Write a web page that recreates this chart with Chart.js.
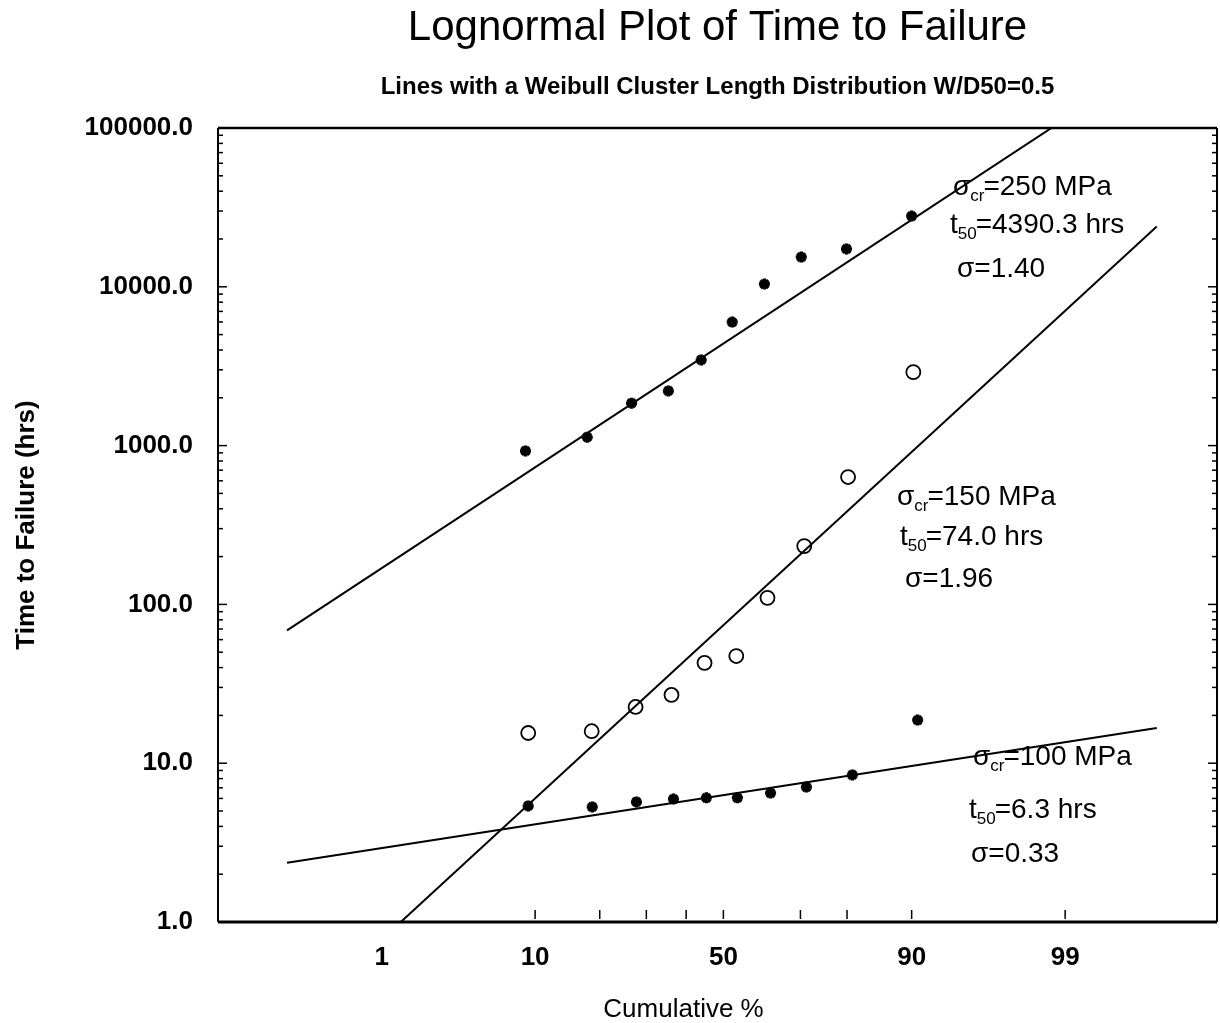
<!DOCTYPE html>
<html>
<head>
<meta charset="utf-8">
<script src="https://cdn.jsdelivr.net/npm/chart.js@4.4.1/dist/chart.umd.min.js"></script>
<style>
    html, body { margin: 0; padding: 0; background: #fff; }
    #wrap { width: 1220px; height: 1023px; position: relative; }
</style>
</head>
<body>
<div id="wrap"><canvas id="ttf-chart"></canvas></div>
<script>
// Cumulative % (plotting position) and time to failure for each stress level
const pct250 = [8.9, 17.7, 26.6, 35.4, 44.0, 52.4, 61.0, 70.2, 79.9, 90.0];
const hrs250 = [925, 1130, 1850, 2210, 3460, 6000, 10400, 15400, 17300, 27900];

const pct150 = [9.2, 18.5, 27.5, 36.2, 44.9, 53.5, 61.8, 70.9, 80.2, 90.2];
const hrs150 = [15.5, 15.9, 22.6, 26.9, 42.8, 47.3, 110, 233, 634, 2900];

const pct100 = [9.2, 18.6, 27.7, 36.7, 45.4, 53.8, 62.6, 71.4, 81.0, 90.7];
const hrs100 = [5.38, 5.30, 5.70, 5.95, 6.05, 6.05, 6.49, 7.08, 8.43, 18.7];

// Lognormal fit parameters
const stressMPa = [250, 150, 100];
const t50Hrs = [4390.3, 74.0, 6.3];
const sigmas = [1.40, 1.96, 0.33];

// Axis ticks
const xLabelPct = [1, 10, 50, 90, 99];
const xMarkPct = [10, 20, 30, 40, 50, 70, 80, 90, 99];
const yTicks = [1, 10, 100, 1000, 10000, 100000];

// inverse normal CDF (Acklam)
function probit(p) {
    const a = [-3.969683028665376e+01, 2.209460984245205e+02, -2.759285104469687e+02, 1.383577518672690e+02, -3.066479806614716e+01, 2.506628277459239e+00];
    const b = [-5.447609879822406e+01, 1.615858368580409e+02, -1.556989798598866e+02, 6.680131188771972e+01, -1.328068155288572e+01];
    const c = [-7.784894002430293e-03, -3.223964580411365e-01, -2.400758277161838e+00, -2.549732539343734e+00, 4.374664141464968e+00, 2.938163982698783e+00];
    const d = [7.784695709041462e-03, 3.224671290700398e-01, 2.445134137142996e+00, 3.754408661907416e+00];
    const pl = 0.02425;
    let q, r;
    if (p < pl) {
        q = Math.sqrt(-2 * Math.log(p));
        return (((((c[0]*q+c[1])*q+c[2])*q+c[3])*q+c[4])*q+c[5]) / ((((d[0]*q+d[1])*q+d[2])*q+d[3])*q+1);
    }
    if (p <= 1 - pl) {
        q = p - 0.5; r = q * q;
        return (((((a[0]*r+a[1])*r+a[2])*r+a[3])*r+a[4])*r+a[5])*q / (((((b[0]*r+b[1])*r+b[2])*r+b[3])*r+b[4])*r+1);
    }
    q = Math.sqrt(-2 * Math.log(1 - p));
    return -(((((c[0]*q+c[1])*q+c[2])*q+c[3])*q+c[4])*q+c[5]) / ((((d[0]*q+d[1])*q+d[2])*q+d[3])*q+1);
}

const points = (pcts, hrs) => pcts.map((p, i) => ({ x: probit(p / 100), y: hrs[i] }));

// straight line on lognormal paper: log t = log t50 + sigma * z
const fitSpan = [-2.97, 2.95];
const fitLine = (t50, s) => fitSpan.map(z => ({ x: z, y: Math.pow(10, Math.log10(t50) + s * z / Math.LN10) }));

const FONT = '"Liberation Sans", Arial, Helvetica, sans-serif';
Chart.defaults.font.family = FONT;
Chart.defaults.color = '#000';

// text blocks next to each fit line
const notePos = [
    { x: [953, 950, 957], y: [195, 233, 277] },
    { x: [897, 900, 905], y: [505, 545, 587] },
    { x: [973, 969, 971], y: [765, 818, 862] }
];

function drawRich(ctx, parts, x, y) {
    parts.forEach(part => {
        const size = part.sub ? 17 : 28;
        ctx.font = size + 'px ' + FONT;
        ctx.fillText(part.t, x, y + (part.sub ? 6 : 0));
        x += ctx.measureText(part.t).width - (part.sub ? 1 : 0);
    });
}

const paperDecor = {
    id: 'paperDecor',
    afterDatasetsDraw(chart) {
        const { ctx, chartArea: ca, scales: { x, y } } = chart;
        ctx.save();
        ctx.strokeStyle = '#000';
        ctx.fillStyle = '#000';
        ctx.lineCap = 'butt';

        // frame
        const side = (x1, y1, x2, y2, w) => {
            ctx.lineWidth = w;
            ctx.beginPath(); ctx.moveTo(x1, y1); ctx.lineTo(x2, y2); ctx.stroke();
        };
        side(ca.left, ca.top, ca.left, ca.bottom, 2);
        side(ca.left, ca.bottom, ca.right, ca.bottom, 3);
        side(ca.left, ca.top, ca.right, ca.top, 2.5);
        side(ca.right, ca.top, ca.right, ca.bottom, 2);

        // inward ticks on the probability axis
        xMarkPct.forEach(p => {
            const px = x.getPixelForValue(probit(p / 100));
            side(px, ca.bottom - 3, px, ca.bottom - 12, 1.5);
        });

        // log decade and minor ticks on both sides
        for (let dec = 1; dec < 100000; dec *= 10) {
            for (let m = 1; m < 10; m++) {
                const py = y.getPixelForValue(dec * m);
                const len = m === 1 ? 9 : 5;
                side(ca.left, py, ca.left + len, py, 1.5);
                side(ca.right, py, ca.right - len, py, 1.5);
            }
        }
        const topY = y.getPixelForValue(100000);
        side(ca.left, topY, ca.left + 9, topY, 1.5);

        // fit parameter notes
        ctx.textAlign = 'left';
        ctx.textBaseline = 'alphabetic';
        stressMPa.forEach((s, i) => {
            const lines = [
                [{ t: '\u03c3' }, { t: 'cr', sub: true }, { t: '=' + s + ' MPa' }],
                [{ t: 't' }, { t: '50', sub: true }, { t: '=' + t50Hrs[i].toFixed(1) + ' hrs' }],
                [{ t: '\u03c3=' + sigmas[i].toFixed(2) }]
            ];
            lines.forEach((parts, k) => drawRich(ctx, parts, notePos[i].x[k], notePos[i].y[k]));
        });

        // x axis title
        ctx.font = '26px ' + FONT;
        ctx.textAlign = 'center';
        ctx.textBaseline = 'middle';
        ctx.fillText('Cumulative %', ca.left + (ca.right - ca.left) * 0.466, chart.height - 13);
        ctx.restore();
    }
};

const markerStar = { pointStyle: 'star', pointRadius: 5.5, borderWidth: 3.5, borderColor: '#000', backgroundColor: '#000', showLine: false };
const fitStyle = { showLine: true, borderColor: '#000', borderWidth: 2, pointRadius: 0, clip: 0 };

new Chart(document.getElementById('ttf-chart'), {
    type: 'scatter',
    data: {
        datasets: [
            { label: '250 MPa', data: points(pct250, hrs250), ...markerStar },
            { label: '150 MPa', data: points(pct150, hrs150), pointStyle: 'circle', pointRadius: 7, borderWidth: 1.8,
              borderColor: '#000', backgroundColor: 'rgba(0,0,0,0)', showLine: false },
            { label: '100 MPa', data: points(pct100, hrs100), ...markerStar },
            { label: 'fit 250', data: fitLine(t50Hrs[0], sigmas[0]), ...fitStyle },
            { label: 'fit 150', data: fitLine(t50Hrs[1], sigmas[1]), ...fitStyle },
            { label: 'fit 100', data: fitLine(t50Hrs[2], sigmas[2]), ...fitStyle }
        ]
    },
    options: {
        responsive: true,
        maintainAspectRatio: false,
        animation: false,
        events: [],
        layout: { autoPadding: false, padding: { left: 0, right: 3, top: 0, bottom: 0 } },
        plugins: {
            legend: { display: false },
            tooltip: { enabled: false },
            title: {
                display: true,
                fullSize: false,
                text: 'Lognormal Plot of Time to Failure',
                font: { size: 42, weight: 'normal' },
                color: '#000',
                padding: { top: 3, bottom: 0 }
            },
            subtitle: {
                display: true,
                fullSize: false,
                text: 'Lines with a Weibull Cluster Length Distribution W/D50=0.5',
                font: { size: 24, weight: 'bold' },
                color: '#000',
                padding: { top: 20, bottom: 25.8 }
            }
        },
        scales: {
            x: {
                type: 'linear',
                min: -3.44,
                max: 3.36,
                grid: { display: false, drawTicks: false },
                border: { display: false },
                afterBuildTicks: scale => { scale.ticks = xLabelPct.map(p => ({ value: probit(p / 100) })); },
                afterFit: scale => { scale.height = 101; },
                ticks: {
                    padding: 20,
                    maxRotation: 0,
                    font: { size: 26, weight: 'bold' },
                    callback: (v, i) => String(xLabelPct[i])
                }
            },
            y: {
                type: 'logarithmic',
                min: 1,
                max: 100000,
                grid: { display: false, drawTicks: false },
                border: { display: false },
                afterBuildTicks: scale => { scale.ticks = yTicks.map(v => ({ value: v })); },
                afterFit: scale => { scale.width = 218; },
                ticks: {
                    padding: 25,
                    font: { size: 26, weight: 'bold' },
                    callback: v => Number(v).toFixed(1)
                },
                title: {
                    display: true,
                    text: 'Time to Failure (hrs)',
                    font: { size: 26, weight: 'bold' },
                    padding: { top: 11, bottom: 0 }
                }
            }
        }
    },
    plugins: [paperDecor]
});
</script>
</body>
</html>
